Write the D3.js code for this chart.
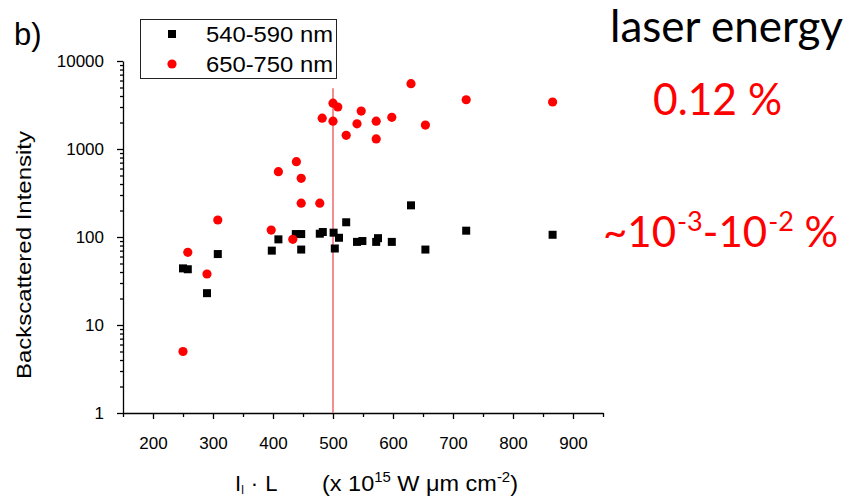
<!DOCTYPE html>
<html>
<head>
<meta charset="utf-8">
<script src="https://cdn.jsdelivr.net/npm/d3@7/dist/d3.min.js"></script>
<style>
  body { margin: 0; background: #fff; }
  svg { display: block; }
</style>
</head>
<body>
<svg id="chart" width="859" height="496"></svg>
<script>
// values
var blackX = [250, 258, 290, 308, 398, 409, 438, 447, 447, 478, 483, 501, 503, 510, 522, 540, 549, 572, 575, 598, 630, 654, 722, 866];
var blackY = [44, 43, 23, 64, 70, 94, 108, 108, 72, 109, 114, 112, 74, 98, 147, 88, 90, 88, 97, 88, 229, 72, 118, 106];

var redX = [250, 258, 290, 308, 397, 409, 433, 439, 447, 447, 478, 482, 500, 500, 508, 522, 540, 547, 572, 572, 598, 630, 654, 722, 866];
var redY = [5, 67, 38, 156, 120, 552, 94, 717, 464, 242, 242, 2240, 3320, 2070, 3000, 1430, 1930, 2700, 2070, 1300, 2290, 5525, 1870, 3630, 3420];

var seriesNames = ['540-590 nm', '650-750 nm'];
var xTickValues = [200, 300, 400, 500, 600, 700, 800, 900];
var yTickValues = [1, 10, 100, 1000, 10000];
var markerX = 500, markerTop = 4900;

var svg = d3.select('#chart');
var font = '"Liberation Sans", Arial, sans-serif';

var x = d3.scaleLinear().domain([150, 950]).range([123, 603]);
var y = d3.scaleLog().domain([1, 10000]).range([413, 61]);

// x axis: minor ticks every 50, labelled every 100
var xMinor = d3.range(150, 951, 100);
svg.append('g')
    .attr('transform', 'translate(0,413)')
    .call(d3.axisBottom(x).tickValues(xMinor).tickSize(4).tickFormat(''))
    .call(function (g) { g.select('.domain').remove(); });
var xAxis = svg.append('g')
    .attr('transform', 'translate(0,413)')
    .call(d3.axisBottom(x).tickValues(xTickValues).tickSize(6).tickSizeOuter(0).tickPadding(18));
xAxis.selectAll('text').attr('font-family', font).attr('font-size', 17).attr('fill', '#000');

// y axis: log minor ticks
var yMinor = y.ticks().filter(function (d) { return yTickValues.indexOf(d) < 0; });
svg.append('g')
    .attr('transform', 'translate(123,0)')
    .call(d3.axisLeft(y).tickValues(yMinor).tickSize(3).tickFormat(''))
    .call(function (g) { g.select('.domain').remove(); });
var yAxis = svg.append('g')
    .attr('transform', 'translate(123,0)')
    .call(d3.axisLeft(y).tickValues(yTickValues).tickSize(6).tickSizeOuter(0).tickPadding(13).tickFormat(d3.format('d')));
yAxis.selectAll('text').attr('font-family', font).attr('font-size', 17).attr('fill', '#000');

svg.selectAll('.domain, .tick line').attr('stroke', '#000').attr('stroke-width', 1.3);

// vertical marker
svg.append('line')
    .attr('x1', x(markerX)).attr('x2', x(markerX))
    .attr('y1', y(markerTop)).attr('y2', y(1))
    .attr('stroke', '#f06a6a').attr('stroke-width', 1.5);

// points
var blackData = blackX.map(function (v, i) { return [v, blackY[i]]; });
var redData = redX.map(function (v, i) { return [v, redY[i]]; });

svg.append('g').selectAll('rect')
    .data(blackData)
    .enter().append('rect')
    .attr('x', function (d) { return x(d[0]) - 4; })
    .attr('y', function (d) { return y(d[1]) - 4; })
    .attr('width', 8).attr('height', 8)
    .attr('fill', '#000');

svg.append('g').selectAll('circle')
    .data(redData)
    .enter().append('circle')
    .attr('cx', function (d) { return x(d[0]); })
    .attr('cy', function (d) { return y(d[1]); })
    .attr('r', 4.6)
    .attr('fill', '#ff0000');

// legend
var legend = svg.append('g');
legend.append('rect')
    .attr('x', 140.5).attr('y', 19.5).attr('width', 196).attr('height', 59)
    .attr('fill', '#fff').attr('stroke', '#222').attr('stroke-width', 1);
legend.append('rect').attr('x', 168).attr('y', 30).attr('width', 8).attr('height', 8).attr('fill', '#000');
legend.append('circle').attr('cx', 172).attr('cy', 64).attr('r', 4.6).attr('fill', '#ff0000');
legend.selectAll('text.leg')
    .data(seriesNames)
    .enter().append('text')
    .attr('class', 'leg')
    .attr('x', 206)
    .attr('y', function (d, i) { return 42 + i * 30; })
    .attr('font-family', font).attr('font-size', 22)
    .attr('textLength', 127).attr('lengthAdjust', 'spacingAndGlyphs')
    .text(function (d) { return d; });

// panel label
svg.append('text').attr('x', 14).attr('y', 45)
    .attr('font-family', font).attr('font-size', 31).text('b)');

// axis titles
svg.append('text')
    .attr('transform', 'translate(31,255) rotate(-90)')
    .attr('text-anchor', 'middle')
    .attr('font-family', font).attr('font-size', 20)
    .attr('textLength', 248).attr('lengthAdjust', 'spacingAndGlyphs')
    .text('Backscattered Intensity');

var xt = svg.append('text').attr('y', 491).attr('font-family', font).attr('font-size', 22);
xt.append('tspan').attr('x', 235).text('I');
xt.append('tspan').attr('font-size', 12).attr('dy', 3).text('l');
xt.append('tspan').attr('dy', -3).attr('dx', 7).text('\u00b7');
xt.append('tspan').attr('dx', 7).text('L');
var xt2 = svg.append('text').attr('x', 322).attr('y', 491).attr('font-family', font).attr('font-size', 22)
    .attr('textLength', 196).attr('lengthAdjust', 'spacingAndGlyphs');
xt2.append('tspan').text('(x 10');
xt2.append('tspan').attr('font-size', 14).attr('dy', -9).text('15');
xt2.append('tspan').attr('dy', 9).text(' W \u03bcm cm');
xt2.append('tspan').attr('font-size', 14).attr('dy', -9).text('-2');
xt2.append('tspan').attr('dy', 9).text(')');

// annotations on the right
var side = 'Lato, "Open Sans", sans-serif';
svg.append('text').attr('x', 610).attr('y', 42)
    .attr('font-family', side).attr('font-size', 44).attr('fill', '#000')
    .attr('textLength', 233).attr('lengthAdjust', 'spacingAndGlyphs')
    .text('laser energy');
svg.append('text').attr('x', 653).attr('y', 115)
    .attr('font-family', side).attr('font-size', 44).attr('fill', '#ff0000')
    .attr('textLength', 129).attr('lengthAdjust', 'spacingAndGlyphs')
    .text('0.12 %');
var pct = svg.append('text').attr('x', 603).attr('y', 247)
    .attr('font-family', side).attr('font-size', 42).attr('fill', '#ff0000');
pct.append('tspan').text('~10');
pct.append('tspan').attr('font-size', 27).attr('dy', -16).attr('dx', 1).text('-3');
pct.append('tspan').attr('dy', 16).text('-10');
pct.append('tspan').attr('font-size', 27).attr('dy', -16).attr('dx', 1).text('-2');
pct.append('tspan').attr('dy', 16).text(' %');
</script>
</body>
</html>
